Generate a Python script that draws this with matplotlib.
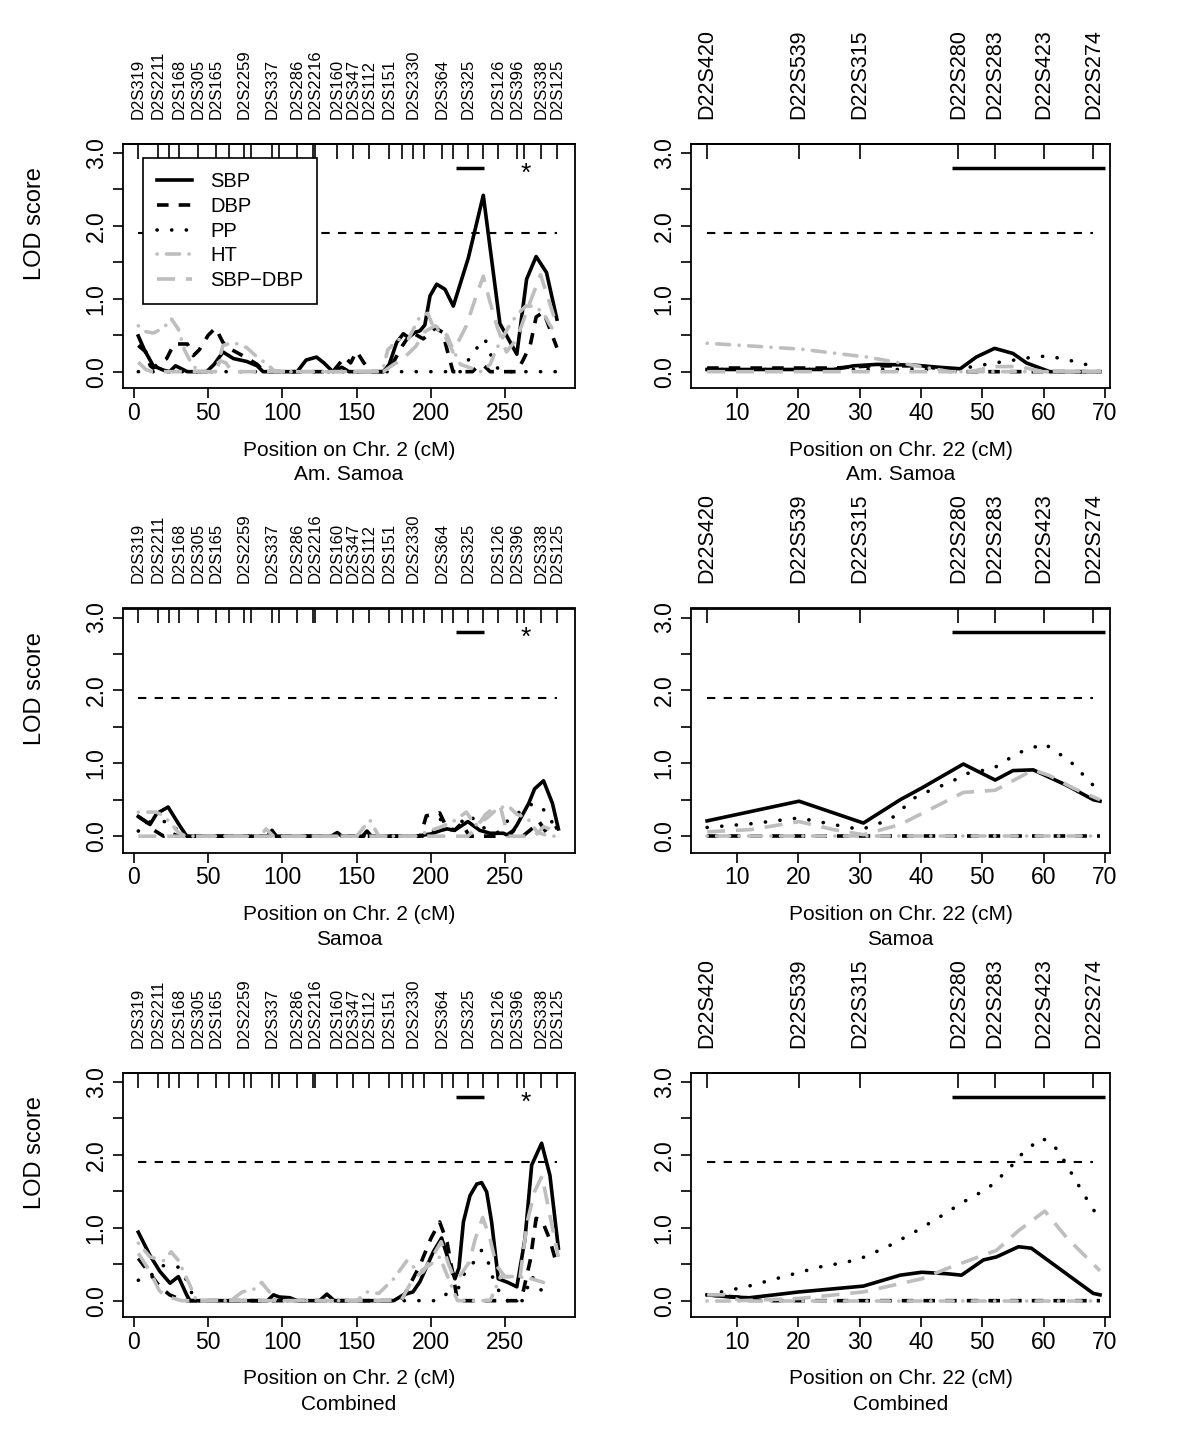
import matplotlib
matplotlib.use("Agg")
import matplotlib.pyplot as plt

plt.rcParams['font.family'] = ['Liberation Sans', 'DejaVu Sans']

# ---------------- markers ----------------
chr2_marker_pos = [2.9, 16.4, 23.6, 30.5, 43.3, 55.3, 64.0, 74.1, 78.8, 92.8, 97.9, 110.0,
                   120.4, 122.2, 137.0, 147.8, 158.6, 172.0, 180.4, 188.2, 195.4, 207.7,
                   215.2, 225.3, 235.4, 245.6, 258.3, 262.8, 274.1, 285.2]
chr2_marker_lab = ["D2S319", "D2S2211", "", "D2S168", "D2S305", "D2S165", "", "D2S2259", "",
                   "D2S337", "", "D2S286", "", "D2S2216", "D2S160", "D2S347", "D2S112",
                   "D2S151", "", "D2S2330", "", "D2S364", "", "D2S325", "", "D2S126",
                   "D2S396", "", "D2S338", "D2S125"]
chr22_marker_pos = [5.1, 20.1, 30.0, 46.1, 52.1, 60.1, 68.1]
chr22_marker_lab = ["D22S420", "D22S539", "D22S315", "D22S280", "D22S283", "D22S423", "D22S274"]

threshold = 1.9
chr2_bar = [217, 236]
chr2_star = 264
chr22_bar = [45, 70]
bar_y = 2.8

# ---------------- chr 2, Am. Samoa ----------------
as2_sbp_x = [2.9, 7, 13, 20, 24, 28, 31, 36, 49, 54, 60, 67, 76, 83, 87, 110, 116, 123, 128, 134,
             140, 145, 150, 168, 172, 177, 181.5, 185, 189.4, 192.7, 196, 199.5, 204, 209.6, 215.2,
             225.3, 235.4, 246.6, 258, 264.6, 271, 278, 285]
as2_sbp_y = [0.49, 0.3, 0.08, 0.02, 0.0, 0.08, 0.05, 0.0, 0.0, 0.1, 0.27, 0.18, 0.14, 0.08, 0.0,
             0.0, 0.16, 0.2, 0.12, 0.0, 0.06, 0.0, 0.0, 0.0, 0.1, 0.4, 0.52, 0.47, 0.54, 0.56, 0.64,
             1.04, 1.2, 1.13, 0.9, 1.56, 2.42, 0.66, 0.24, 1.27, 1.58, 1.36, 0.72]
as2_dbp_x = [2.9, 8, 11, 13, 16, 22, 27, 36, 40, 44, 50, 55, 60, 66, 75, 83, 88, 134, 142, 146,
             150, 155, 160, 168, 174, 181, 187, 195, 203, 208, 211, 215, 228, 232, 236, 240, 258,
             262, 267, 271, 276, 280, 285]
as2_dbp_y = [0.36, 0.27, 0.08, 0.05, 0.1, 0.18, 0.38, 0.38, 0.22, 0.3, 0.5, 0.6, 0.4, 0.3, 0.2,
             0.1, 0.0, 0.0, 0.2, 0.12, 0.28, 0.12, 0.0, 0.0, 0.1, 0.36, 0.54, 0.45, 0.6, 0.54, 0.3,
             0.0, 0.0, 0.08, 0.08, 0.0, 0.0, 0.15, 0.36, 0.75, 0.82, 0.6, 0.33]
as2_pp_x = [2.9, 220, 226, 232, 236.5, 240, 245, 250, 285]
as2_pp_y = [0.0, 0.0, 0.18, 0.35, 0.45, 0.25, 0.05, 0.0, 0.0]
as2_ht_x = [2.9, 8, 13, 20, 25, 30, 34, 39, 44, 55, 60, 67, 76, 83, 90, 95, 165, 168, 171, 178,
            185, 193, 198, 202, 207, 211, 215, 220, 234, 240, 244, 252, 258, 264, 270, 276, 280, 285]
as2_ht_y = [0.63, 0.55, 0.53, 0.6, 0.73, 0.58, 0.3, 0.1, 0.0, 0.0, 0.36, 0.4, 0.33, 0.2, 0.1, 0.0,
            0.0, 0.05, 0.3, 0.44, 0.45, 0.77, 0.8, 0.6, 0.55, 0.5, 0.3, 0.1, 0.0, 0.1, 0.3, 0.6,
            0.78, 0.9, 0.9, 0.8, 0.65, 0.5]
as2_sd_x = [2.9, 8, 12, 55, 58, 62, 66, 168, 175, 181, 190, 196, 203, 208, 215, 224, 230, 235.4,
            240, 245, 251, 258, 265, 274, 280, 285]
as2_sd_y = [0.13, 0.03, 0.0, 0.0, 0.15, 0.12, 0.0, 0.0, 0.1, 0.17, 0.35, 0.55, 0.63, 0.55, 0.27,
            0.63, 1.0, 1.31, 0.95, 0.6, 0.27, 0.45, 0.85, 1.33, 0.95, 0.63]

# ---------------- chr 2, Samoa ----------------
s2_sbp_x = [2.9, 10.8, 15.3, 23, 30, 35.5, 90, 93, 96, 133, 137, 140, 154, 157, 160, 190, 200,
            207, 211, 216, 225, 233, 240, 249, 253, 258, 262, 266, 270, 276, 282, 286]
s2_sbp_y = [0.27, 0.16, 0.31, 0.4, 0.17, 0.0, 0.0, 0.08, 0.0, 0.0, 0.05, 0.0, 0.0, 0.07, 0.0, 0.0,
            0.03, 0.08, 0.1, 0.08, 0.2, 0.08, 0.04, 0.04, 0.0, 0.15, 0.3, 0.45, 0.65, 0.76, 0.45, 0.1]
s2_dbp_x = [2.9, 8, 12, 20, 24, 30, 35, 193, 197, 203, 206, 210, 216, 221, 226, 250, 256, 262,
            268, 273, 278, 286]
s2_dbp_y = [0.27, 0.2, 0.1, 0.0, 0.05, 0.0, 0.0, 0.0, 0.28, 0.3, 0.32, 0.15, 0.08, 0.18, 0.0, 0.0,
            0.08, 0.0, 0.1, 0.2, 0.05, 0.13]
s2_pp_x = [2.9, 11, 23, 30, 35, 200, 206, 214, 226, 235, 245, 253, 262, 269, 277, 286]
s2_pp_y = [0.07, 0.2, 0.2, 0.07, 0.0, 0.0, 0.24, 0.08, 0.29, 0.12, 0.05, 0.24, 0.36, 0.45, 0.35, 0.05]
s2_ht_x = [2.9, 15, 20, 26, 30, 35, 85, 89, 94, 150, 159, 165, 190, 200, 206, 215, 224, 230, 238,
           245, 252, 258, 265, 272, 280, 286]
s2_ht_y = [0.33, 0.33, 0.28, 0.15, 0.05, 0.0, 0.0, 0.1, 0.0, 0.0, 0.22, 0.0, 0.0, 0.08, 0.12, 0.2,
           0.33, 0.15, 0.25, 0.38, 0.42, 0.3, 0.25, 0.05, 0.0, 0.0]
s2_sd_x = [2.9, 225, 230, 237, 242, 247, 252, 270, 276, 280, 286]
s2_sd_y = [0.0, 0.0, 0.1, 0.3, 0.38, 0.4, 0.0, 0.0, 0.13, 0.1, 0.0]

# ---------------- chr 2, Combined ----------------
c2_sbp_x = [2.9, 10.8, 17.5, 24.3, 29.9, 35.5, 37.7, 90, 94, 98, 105, 110, 125, 130, 135, 175,
            181.5, 188, 192.7, 201.7, 207.3, 213, 216.3, 219, 222, 226.4, 231, 234.3, 237.7, 241,
            245.5, 252, 258, 263.5, 268, 274.7, 280.3, 283.7, 286]
c2_sbp_y = [0.94, 0.62, 0.4, 0.24, 0.33, 0.08, 0.0, 0.0, 0.08, 0.05, 0.04, 0.0, 0.0, 0.09, 0.0,
            0.0, 0.08, 0.12, 0.26, 0.67, 0.86, 0.49, 0.3, 0.45, 1.08, 1.44, 1.6, 1.62, 1.49, 1.08,
            0.3, 0.25, 0.19, 0.85, 1.86, 2.16, 1.72, 1.12, 0.72]
c2_dbp_x = [2.9, 10.8, 17.5, 24, 30, 36, 180, 188, 193, 200, 206, 211, 215, 218, 258, 262, 267,
            271, 275, 280, 285]
c2_dbp_y = [0.58, 0.37, 0.19, 0.08, 0.03, 0.0, 0.0, 0.3, 0.5, 0.85, 1.08, 0.8, 0.35, 0.0, 0.0,
            0.1, 0.55, 1.13, 1.1, 0.85, 0.49]
c2_pp_x = [2.9, 12.3, 19.7, 29.9, 37.7, 40, 205, 209.6, 218.6, 221.9, 228, 234.2, 238.7, 242,
           245.5, 250, 262, 268, 273.6, 281.5]
c2_pp_y = [0.28, 0.36, 0.48, 0.46, 0.21, 0.0, 0.0, 0.08, 0.17, 0.35, 0.5, 0.69, 0.53, 0.3, 0.15,
           0.0, 0.0, 0.34, 0.16, 0.03]
c2_ht_x = [2.9, 10.8, 20, 25, 30, 37.7, 42, 65, 73, 81, 86, 92, 96, 150, 157, 165, 175, 180, 184,
           189, 193, 200, 206, 212, 218, 240, 247, 259, 268, 276, 280]
c2_ht_y = [0.79, 0.6, 0.55, 0.67, 0.55, 0.21, 0.0, 0.0, 0.12, 0.16, 0.25, 0.1, 0.0, 0.0, 0.12,
           0.1, 0.3, 0.44, 0.55, 0.45, 0.4, 0.5, 0.6, 0.3, 0.0, 0.0, 0.33, 0.33, 0.3, 0.25, 0.21]
c2_sd_x = [2.9, 10.8, 17, 22, 27, 32, 180, 188, 195, 201, 207, 212, 216, 220, 226, 230, 235, 240,
           244, 250, 256, 260, 265, 270, 275, 280, 286]
c2_sd_y = [0.65, 0.4, 0.14, 0.05, 0.03, 0.0, 0.0, 0.3, 0.4, 0.6, 0.81, 0.5, 0.3, 0.35, 0.53, 0.85,
           1.14, 0.85, 0.49, 0.33, 0.33, 0.3, 1.08, 1.5, 1.71, 1.2, 0.6]

# ---------------- chr 22, Am. Samoa ----------------
as22_sbp_x = [5.1, 15, 25.7, 29, 32.8, 38.8, 43, 46.4, 49, 52, 55, 57.2, 61, 69.2]
as22_sbp_y = [0.03, 0.03, 0.03, 0.08, 0.1, 0.09, 0.06, 0.04, 0.2, 0.32, 0.25, 0.12, 0.0, 0.0]
as22_dbp_x = [5.1, 26, 32, 40, 46, 69.2]
as22_dbp_y = [0.05, 0.05, 0.08, 0.08, 0.0, 0.0]
as22_pp_x = [5.1, 44, 47, 49.3, 52, 54.5, 59, 61, 63.5, 66, 68.1]
as22_pp_y = [0.03, 0.03, 0.05, 0.08, 0.12, 0.15, 0.21, 0.21, 0.17, 0.12, 0.07]
as22_ht_x = [5.1, 20.3, 31.2, 39.3, 44.7, 69.2]
as22_ht_y = [0.39, 0.31, 0.2, 0.08, 0.0, 0.0]
as22_sd_x = [5.1, 48, 52, 56, 60, 69.2]
as22_sd_y = [0.0, 0.0, 0.07, 0.07, 0.0, 0.0]

# ---------------- chr 22, Samoa ----------------
s22_sbp_x = [5.1, 20.1, 30.6, 36.6, 40.1, 46.9, 52.1, 55, 58.3, 63.7, 68.1, 69.2]
s22_sbp_y = [0.21, 0.48, 0.18, 0.5, 0.66, 0.99, 0.77, 0.9, 0.91, 0.7, 0.5, 0.48]
s22_dbp_x = [5.1, 69.2]
s22_dbp_y = [0.0, 0.0]
s22_pp_x = [5.1, 12.2, 20.1, 25.7, 30.2, 35, 39.3, 45, 47.5, 51.8, 55.8, 60.1, 64.3, 67.5, 69.2]
s22_pp_y = [0.12, 0.17, 0.25, 0.16, 0.09, 0.23, 0.55, 0.75, 0.86, 0.93, 1.14, 1.27, 1.03, 0.75, 0.6]
s22_ht_x = [5.1, 69.2]
s22_ht_y = [0.0, 0.0]
s22_sd_x = [5.1, 12.2, 20.1, 25.7, 30.6, 36.6, 42, 46.9, 52.1, 58.3, 61, 64.8, 69.2]
s22_sd_y = [0.06, 0.09, 0.2, 0.09, 0.02, 0.16, 0.39, 0.6, 0.63, 0.91, 0.83, 0.66, 0.5]

# ---------------- chr 22, Combined ----------------
c22_sbp_x = [5.1, 9, 12, 20.1, 30.6, 36.6, 40.1, 44.2, 46.6, 50.2, 52.3, 55.9, 58, 63.7, 68.1, 69.2]
c22_sbp_y = [0.08, 0.05, 0.04, 0.12, 0.2, 0.35, 0.39, 0.37, 0.35, 0.56, 0.6, 0.74, 0.72, 0.37, 0.1, 0.08]
c22_dbp_x = [5.1, 10, 14, 69.2]
c22_dbp_y = [0.08, 0.05, 0.0, 0.0]
c22_pp_x = [5.1, 9.7, 11.9, 23.3, 27.9, 30.2, 34.5, 38.7, 42.7, 46.8, 50.9, 54.4, 55.9, 57.8, 59.7,
            61.5, 63, 66.7, 68.5]
c22_pp_y = [0.08, 0.16, 0.2, 0.46, 0.53, 0.58, 0.74, 0.93, 1.13, 1.35, 1.54, 1.81, 1.97, 2.11, 2.23,
            2.15, 1.97, 1.44, 1.2]
c22_ht_x = [5.1, 69.2]
c22_ht_y = [0.0, 0.0]
c22_sd_x = [5.1, 8, 10.5, 20.1, 30.6, 40.1, 44.2, 52.3, 55.9, 60.2, 63.7, 69.2]
c22_sd_y = [0.08, 0.08, 0.0, 0.03, 0.12, 0.3, 0.44, 0.69, 0.96, 1.23, 0.87, 0.41]

series_names = ["SBP", "DBP", "PP", "HT", "SBP\u2212DBP"]
pop_names = ["Am. Samoa", "Samoa", "Combined"]

panels_chr2 = [
    [(as2_sbp_x, as2_sbp_y), (as2_dbp_x, as2_dbp_y), (as2_pp_x, as2_pp_y), (as2_ht_x, as2_ht_y), (as2_sd_x, as2_sd_y)],
    [(s2_sbp_x, s2_sbp_y), (s2_dbp_x, s2_dbp_y), (s2_pp_x, s2_pp_y), (s2_ht_x, s2_ht_y), (s2_sd_x, s2_sd_y)],
    [(c2_sbp_x, c2_sbp_y), (c2_dbp_x, c2_dbp_y), (c2_pp_x, c2_pp_y), (c2_ht_x, c2_ht_y), (c2_sd_x, c2_sd_y)],
]
panels_chr22 = [
    [(as22_sbp_x, as22_sbp_y), (as22_dbp_x, as22_dbp_y), (as22_pp_x, as22_pp_y), (as22_ht_x, as22_ht_y), (as22_sd_x, as22_sd_y)],
    [(s22_sbp_x, s22_sbp_y), (s22_dbp_x, s22_dbp_y), (s22_pp_x, s22_pp_y), (s22_ht_x, s22_ht_y), (s22_sd_x, s22_sd_y)],
    [(c22_sbp_x, c22_sbp_y), (c22_dbp_x, c22_dbp_y), (c22_pp_x, c22_pp_y), (c22_ht_x, c22_ht_y), (c22_sd_x, c22_sd_y)],
]

GRAY = "#bebebe"
LW = 2.6
styles = [
    dict(color="black", lw=LW, linestyle="-"),
    dict(color="black", lw=LW, linestyle=(0, (3.2, 2.8))),
    dict(color="black", lw=LW, linestyle=(0, (0.05, 4.0)), dash_capstyle="round"),
    dict(color=GRAY, lw=LW, linestyle=(0, (0.05, 2.6, 3.6, 2.6)), dash_capstyle="round"),
    dict(color=GRAY, lw=LW, linestyle=(0, (5.0, 3.0))),
]

W, H = 1200, 1439
fig = plt.figure(figsize=(12, 14.39), dpi=100)

FS = 15
TFS = 16.5
row_tops = [144, 608.5, 1073]
box_h = 244
cols = [(123, 575), (691, 1110)]
ylim = (-0.224, 3.124)


def make_ax(col, row):
    x0, x1 = cols[col]
    top = row_tops[row]
    return fig.add_axes([x0 / W, 1 - (top + box_h) / H, (x1 - x0) / W, box_h / H])


for row in range(3):
    for col in range(2):
        ax = make_ax(col, row)
        if col == 0:
            data = panels_chr2[row]
            mpos, mlab = chr2_marker_pos, chr2_marker_lab
            ax.set_xlim(-7.4, 297.2)
            ax.set_xticks([0, 50, 100, 150, 200, 250])
            xl = "Position on Chr. 2 (cM)"
            mfs = 12
        else:
            data = panels_chr22[row]
            mpos, mlab = chr22_marker_pos, chr22_marker_lab
            ax.set_xlim(2.47, 70.83)
            ax.set_xticks([10, 20, 30, 40, 50, 60, 70])
            xl = "Position on Chr. 22 (cM)"
            mfs = 15.5
        ax.set_ylim(*ylim)
        handles = []
        for (xs, ys), st in zip(data, styles):
            ln, = ax.plot(xs, ys, solid_joinstyle="round", **st)
            handles.append(ln)
        # threshold
        ax.plot([mpos[0], mpos[-1]], [threshold, threshold], color="black", lw=1.5,
                linestyle=(0, (4, 4)))
        # bar and star
        if col == 0:
            ax.plot(chr2_bar, [bar_y, bar_y], color="black", lw=2.5, solid_capstyle="butt")
            ax.text(chr2_star, bar_y - 0.08, "*", ha="center", va="center", fontsize=19)
        else:
            ax.plot(chr22_bar, [bar_y, bar_y], color="black", lw=2.5, solid_capstyle="butt")
        ax.set_yticks([0, 0.5, 1, 1.5, 2, 2.5, 3])
        ax.set_yticklabels(["0.0", "", "1.0", "", "2.0", "", "3.0"])
        ax.tick_params(axis="both", direction="out", length=7, width=1.2, labelsize=TFS,
                       top=False, right=False)
        ax.tick_params(axis="x", pad=3)
        ax.tick_params(axis="y", pad=4)
        for t in ax.get_yticklabels():
            t.set_rotation(90)
            t.set_va("center")
            t.set_ha("right")
        for s in ax.spines.values():
            s.set_linewidth(1.3)
        sec = ax.secondary_xaxis("top")
        sec.set_xticks(mpos)
        sec.set_xticklabels(mlab)
        sec.tick_params(direction="in", length=11, width=1.2, labelsize=mfs, pad=18)
        for t in sec.get_xticklabels():
            t.set_rotation(90)
        sec.spines["top"].set_linewidth(1.3)
        # x labels
        x0, x1 = cols[col]
        xc = ((x0 + x1) / 2) / W
        top = row_tops[row]
        fig.text(xc, 1 - (top + 306) / H, xl, ha="center", va="center", fontsize=FS)
        fig.text(xc, 1 - (top + 331) / H, pop_names[row], ha="center", va="center", fontsize=FS)
        if col == 0:
            fig.text(35 / W, 1 - (top + 80) / H, "LOD score", rotation=90,
                     ha="center", va="center", fontsize=FS + 2)
        if row == 0 and col == 0:
            leg = ax.legend(handles, series_names, loc="upper left",
                            bbox_to_anchor=(0.0436, 0.941), borderaxespad=0,
                            fontsize=14.5, handlelength=1.75, handletextpad=0.9,
                            labelspacing=0.28, borderpad=0.7, fancybox=False,
                            framealpha=1, edgecolor="black")
            leg.get_frame().set_linewidth(1.2)

fig.savefig("out.png", dpi=100)
